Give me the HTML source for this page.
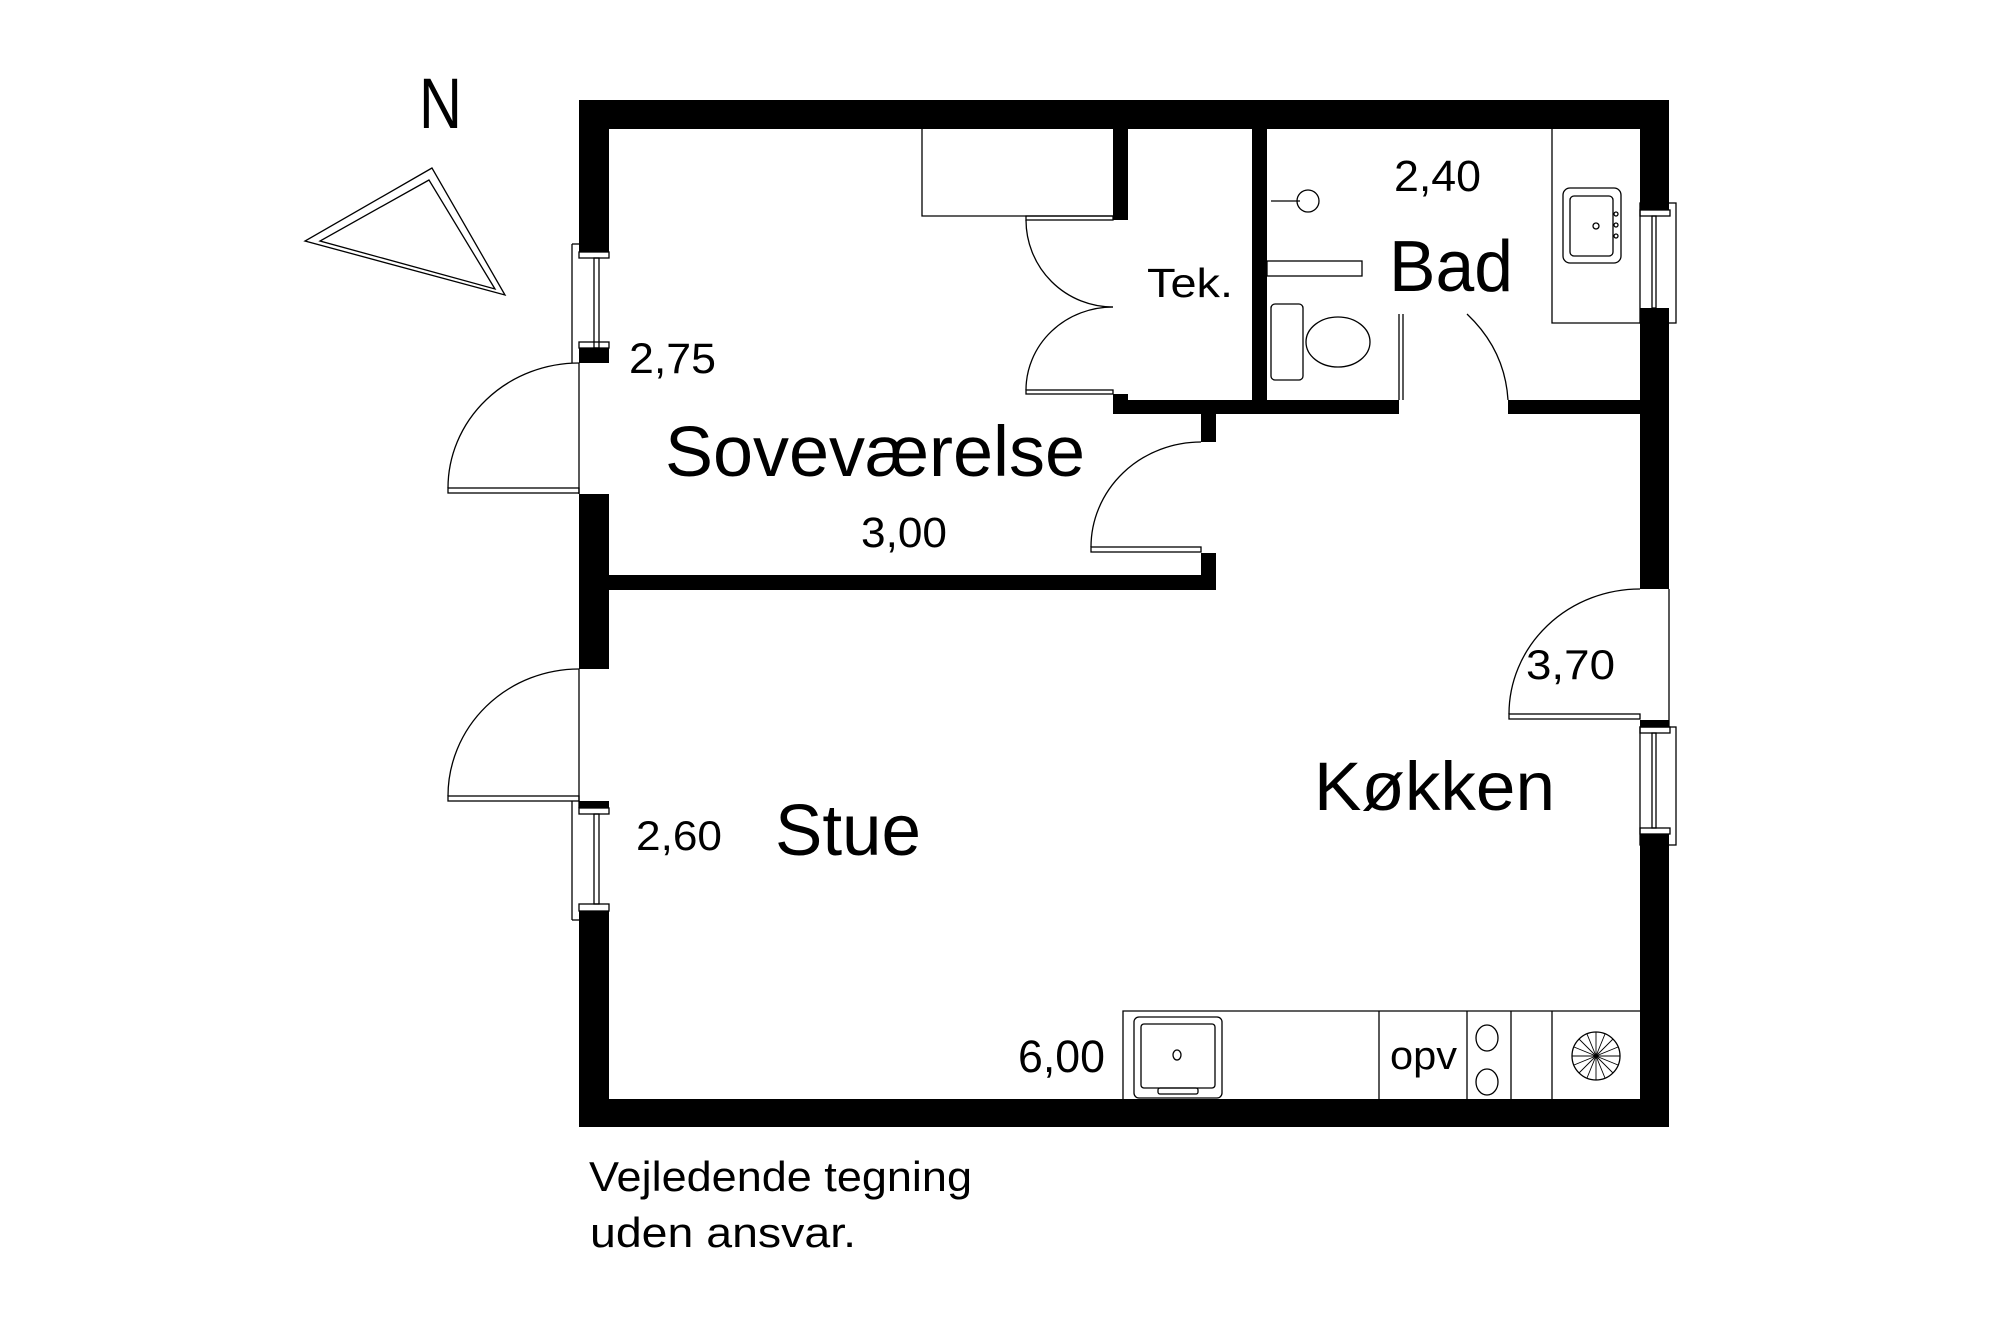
<!DOCTYPE html>
<html><head><meta charset="utf-8"><style>
html,body{margin:0;padding:0;background:#fff;}
svg{display:block;}
text{font-family:"Liberation Sans",Arial,sans-serif;fill:#000;}
</style></head><body>
<svg width="2000" height="1333" viewBox="0 0 2000 1333" xmlns="http://www.w3.org/2000/svg">
<rect width="2000" height="1333" fill="#fff"/>
<g fill="none" stroke="#000" stroke-width="1.3">
<polygon points="432,168 305,241 505,295"/>
<polygon points="429,180 320,241 495,289"/>
<line x1="572" y1="244" x2="572" y2="363"/><line x1="572" y1="244" x2="579" y2="244"/>
<rect x="579" y="252" width="30" height="6"/><rect x="594" y="258" width="5" height="90"/><rect x="579" y="342" width="30" height="6"/>
<rect x="448" y="488" width="131" height="5"/>
<path d="M448,488 A131,125 0 0 1 579,363"/>
<line x1="579" y1="363" x2="579" y2="494"/>
<rect x="448" y="796" width="131" height="5"/>
<path d="M448,796 A131,127 0 0 1 579,669"/>
<line x1="579" y1="669" x2="579" y2="808"/>
<line x1="572" y1="801" x2="572" y2="920"/><line x1="572" y1="920" x2="579" y2="920"/>
<rect x="579" y="808" width="30" height="6"/><rect x="594" y="814" width="5" height="90"/><rect x="579" y="904" width="30" height="7"/>
<polyline points="922,129 922,216 1113,216"/>
<rect x="1026" y="216" width="87" height="4"/>
<path d="M1026,220 A87,87 0 0 0 1113,307"/>
<rect x="1026" y="390" width="87" height="4"/>
<path d="M1026,390 A87,83 0 0 1 1113,307"/>
<rect x="1091" y="547" width="110" height="5"/>
<path d="M1091,547 A110,105 0 0 1 1201,442"/>
<circle cx="1308" cy="201" r="11"/><line x1="1271" y1="201" x2="1300" y2="201"/>
<rect x="1267" y="261" width="95" height="15"/>
<rect x="1271" y="304" width="32" height="76" rx="4"/>
<ellipse cx="1338" cy="342" rx="32" ry="25"/>
<line x1="1399" y1="314" x2="1399" y2="400"/><line x1="1403" y1="314" x2="1403" y2="400"/>
<path d="M1467,314 Q1505,350 1508,400"/>
<polyline points="1552,129 1552,323 1640,323"/>
<rect x="1563" y="188" width="58" height="75" rx="7"/>
<rect x="1570" y="196" width="43" height="60" rx="4"/>
<circle cx="1596" cy="226" r="3"/><circle cx="1616" cy="214" r="2"/><circle cx="1616" cy="225" r="2"/><circle cx="1616" cy="236" r="2"/>
<rect x="1640" y="203" width="36" height="120"/><rect x="1640" y="210" width="30" height="6"/><rect x="1652" y="216" width="4" height="92"/>
<rect x="1509" y="714" width="131" height="5"/>
<path d="M1509,714 A131,125 0 0 1 1640,589"/>
<line x1="1669" y1="589" x2="1669" y2="727"/>
<rect x="1640" y="727" width="36" height="118"/><rect x="1640" y="727" width="30" height="6"/><rect x="1652" y="733" width="4" height="95"/><rect x="1640" y="828" width="30" height="6"/>
<polyline points="1123,1099 1123,1011 1640,1011"/>
<line x1="1379" y1="1011" x2="1379" y2="1099"/><line x1="1467" y1="1011" x2="1467" y2="1099"/>
<line x1="1511" y1="1011" x2="1511" y2="1099"/><line x1="1552" y1="1011" x2="1552" y2="1099"/>
<rect x="1134" y="1017" width="88" height="81" rx="5"/>
<rect x="1141" y="1024" width="74" height="64" rx="3"/>
<rect x="1158" y="1088" width="40" height="6" rx="2"/>
<ellipse cx="1177" cy="1055" rx="4" ry="5"/>
<ellipse cx="1487" cy="1038" rx="11" ry="13"/><ellipse cx="1487" cy="1082" rx="11" ry="13"/>
<circle cx="1596" cy="1056" r="24"/>
<g stroke-width="0.9">
<line x1="1572" y1="1056" x2="1620" y2="1056"/><line x1="1596" y1="1032" x2="1596" y2="1080"/>
<line x1="1579" y1="1039" x2="1613" y2="1073"/><line x1="1579" y1="1073" x2="1613" y2="1039"/>
<line x1="1574" y1="1047" x2="1618" y2="1065"/><line x1="1574" y1="1065" x2="1618" y2="1047"/>
<line x1="1587" y1="1034" x2="1605" y2="1078"/><line x1="1605" y1="1034" x2="1587" y2="1078"/>
</g>
</g>
<g fill="#000">
<rect x="579" y="100" width="1090" height="29"/>
<rect x="579" y="1099" width="1090" height="28"/>
<rect x="579" y="100" width="30" height="152"/>
<rect x="579" y="348" width="30" height="15"/>
<rect x="579" y="494" width="30" height="175"/>
<rect x="579" y="801" width="30" height="7"/>
<rect x="579" y="911" width="30" height="216"/>
<rect x="1640" y="100" width="29" height="110"/>
<rect x="1640" y="308" width="29" height="281"/>
<rect x="1640" y="720" width="29" height="7"/>
<rect x="1640" y="834" width="29" height="293"/>
<rect x="609" y="575" width="607" height="15"/>
<rect x="1201" y="553" width="15" height="37"/>
<rect x="1201" y="400" width="15" height="42"/>
<rect x="1113" y="400" width="286" height="14"/>
<rect x="1113" y="394" width="15" height="8"/>
<rect x="1113" y="129" width="15" height="91"/>
<rect x="1252" y="129" width="15" height="285"/>
<rect x="1508" y="400" width="132" height="14"/>
</g>
<text x="419" y="128" font-size="71" textLength="43" lengthAdjust="spacingAndGlyphs">N</text>
<text x="629" y="373" font-size="43" textLength="87" lengthAdjust="spacingAndGlyphs">2,75</text>
<text x="665" y="476" font-size="71" textLength="420" lengthAdjust="spacingAndGlyphs">Soveværelse</text>
<text x="861" y="547" font-size="43" textLength="86" lengthAdjust="spacingAndGlyphs">3,00</text>
<text x="1147" y="297" font-size="41" textLength="86" lengthAdjust="spacingAndGlyphs">Tek.</text>
<text x="1394" y="191" font-size="44" textLength="87" lengthAdjust="spacingAndGlyphs">2,40</text>
<text x="1389" y="291" font-size="72" textLength="124" lengthAdjust="spacingAndGlyphs">Bad</text>
<text x="1526" y="679" font-size="42" textLength="89" lengthAdjust="spacingAndGlyphs">3,70</text>
<text x="1314" y="810" font-size="69" textLength="241" lengthAdjust="spacingAndGlyphs">Køkken</text>
<text x="775" y="855" font-size="72" textLength="146" lengthAdjust="spacingAndGlyphs">Stue</text>
<text x="636" y="850" font-size="42" textLength="86" lengthAdjust="spacingAndGlyphs">2,60</text>
<text x="1018" y="1072" font-size="45" textLength="87" lengthAdjust="spacingAndGlyphs">6,00</text>
<text x="1390" y="1069" font-size="40" textLength="67" lengthAdjust="spacingAndGlyphs">opv</text>
<text x="589" y="1191" font-size="42" textLength="383" lengthAdjust="spacingAndGlyphs">Vejledende tegning</text>
<text x="590" y="1247" font-size="42" textLength="266" lengthAdjust="spacingAndGlyphs">uden ansvar.</text>
</svg>
</body></html>
